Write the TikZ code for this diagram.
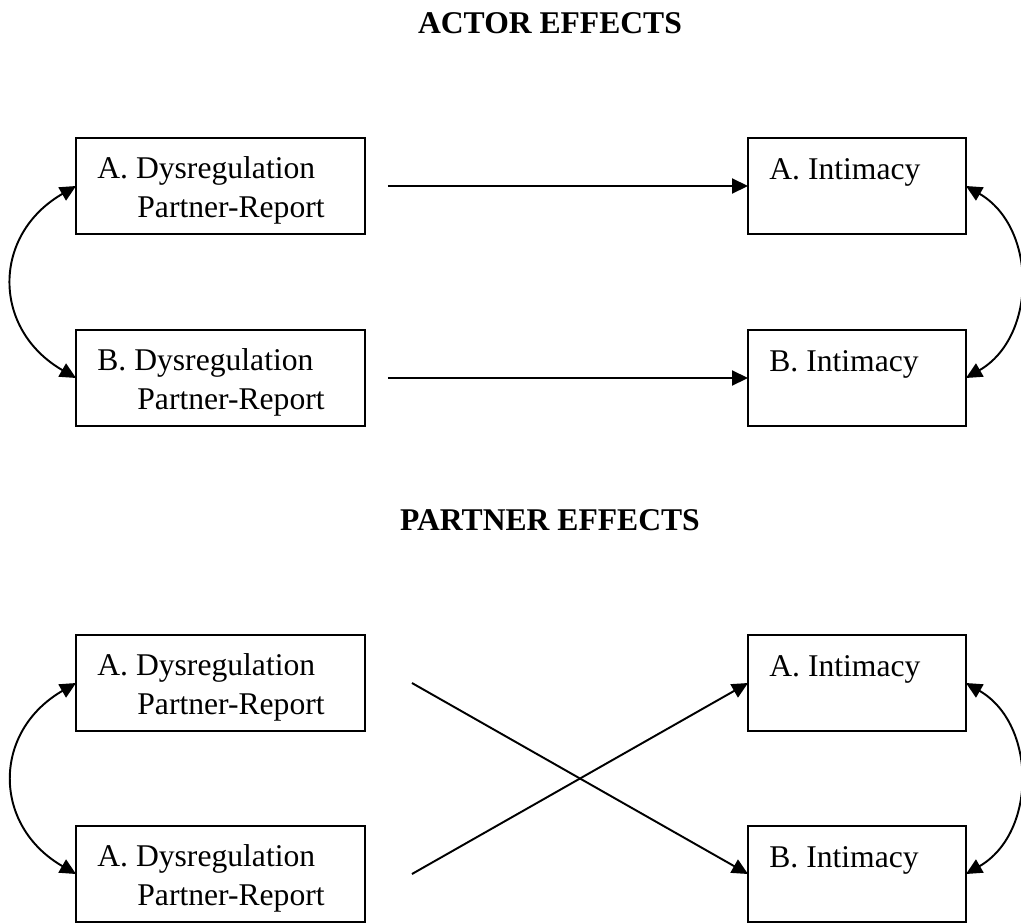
\documentclass[tikz,border=0pt]{standalone}
\usepackage{fontspec}
\setmainfont{Liberation Serif}
\usepackage{tikz}
\usetikzlibrary{arrows.meta, positioning, calc}
\tikzset{
    caixa/.style  = {draw, line width=1.1pt, rectangle, outer sep=0pt, inner sep=0pt,
                     minimum height=1.92cm},
    texto/.style  = {anchor=base west, inner sep=0pt},
    titulo/.style = {anchor=base, inner sep=0pt, font=\fontsize{18}{22.2}\selectfont\bfseries},
    seta/.style   = {-{Triangle[length=3.2mm, width=3mm]}, line width=1.1pt},
    curva/.style  = {{Triangle[length=3.2mm, width=3mm]}-{Triangle[length=3.2mm, width=3mm]}, line width=1.1pt},
}

\begin{document}
\begin{tikzpicture}[x=0.02cm, y=0.02cm, font=\fontsize{18}{22.2}\selectfont]
        \useasboundingbox (0,0) rectangle (1021,-923);
        \node[titulo] (T1) at (550,-33) {ACTOR EFFECTS};
        \node[titulo] (T2) at (550,-530) {PARTNER EFFECTS};
        \foreach \n/\y/\l in {DA/186/A, DB/378/B, PA/683/A, PB/874/A} {
            \node[caixa, minimum width=5.78cm] (\n) at (220.5,-\y) {};
            \node[texto] (\n1) at ([shift={(21,-40)}]\n.north west) {\l. Dysregulation};
            \node[texto] (\n2) at ([shift={(61,-79)}]\n.north west) {Partner-Report};
        }
        \foreach \n/\y/\l in {IA/186/A, IB/378/B, QA/683/A, QB/874/B} {
            \node[caixa, minimum width=4.36cm] (\n) at (857,-\y) {};
            \node[texto] (\n1) at ([shift={(21,-41)}]\n.north west) {\l. Intimacy};
        }
        \draw[seta] ([xshift=0.46cm]DA.east) -- (IA.west);
        \draw[seta] ([xshift=0.46cm]DB.east) -- (IB.west);
        \draw[seta] ([xshift=0.94cm]PA.east) -- (QB.west);
        \draw[seta] ([xshift=0.94cm]PB.east) -- (QA.west);
        \draw[curva] (DA.west) to[out=210, in=150, looseness=1.3] (DB.west);
        \draw[curva] (PA.west) to[out=210, in=150, looseness=1.3] (PB.west);
        \draw[curva] (IA.east) to[out=-30, in=30, looseness=1.1] (IB.east);
        \draw[curva] (QA.east) to[out=-30, in=30, looseness=1.1] (QB.east);
    \end{tikzpicture}
\end{document}
